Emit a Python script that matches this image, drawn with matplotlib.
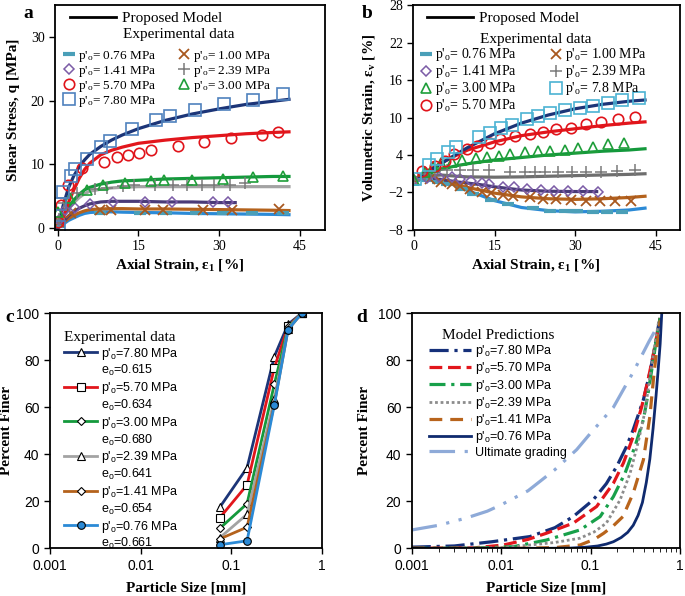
import matplotlib
matplotlib.use("Agg")
from matplotlib import pyplot as plt
from matplotlib.lines import Line2D
from matplotlib.ticker import NullFormatter

plt.rcParams["font.family"] = ["Liberation Serif", "DejaVu Serif"]
plt.rcParams["mathtext.default"] = "regular"

# ---------------- panel a: shear stress vs axial strain ----------------
a_model_x = [0, 1, 2, 3, 4, 5, 6, 8, 10, 12, 15, 20, 25, 30, 35, 40, 43]
a_model_780 = [0, 3.5, 6.3, 8.2, 9.6, 10.7, 11.6, 12.8, 13.8, 14.6, 15.6, 16.9, 17.9, 18.7, 19.4, 19.9, 20.2]
a_model_570 = [0, 1.5, 4.0, 6.0, 7.8, 9.2, 10.2, 11.5, 12.2, 12.7, 13.3, 13.8, 14.2, 14.5, 14.8, 15.0, 15.1]
a_model_300 = [0, 1.8, 3.3, 4.4, 5.3, 6.0, 6.4, 6.9, 7.2, 7.4, 7.5, 7.7, 7.8, 7.9, 8.0, 8.1, 8.1]
a_model_239 = [0, 1.6, 3.0, 4.0, 4.8, 5.4, 5.8, 6.1, 6.3, 6.4, 6.5, 6.5, 6.5, 6.5, 6.5, 6.5, 6.5]
a_model_100 = [0, 0.8, 1.5, 2.0, 2.4, 2.7, 2.9, 3.0, 3.05, 3.05, 3.0, 3.0, 2.95, 2.9, 2.85, 2.8, 2.75]
a_model_076 = [0, 0.6, 1.2, 1.6, 2.0, 2.3, 2.45, 2.55, 2.55, 2.5, 2.45, 2.4, 2.3, 2.25, 2.2, 2.15, 2.1]
a_model_141_x = [0, 1, 2, 3, 4, 5, 6, 8, 10, 12, 15, 20, 25, 30, 33]
a_model_141 = [0, 1.0, 1.9, 2.6, 3.1, 3.5, 3.8, 4.1, 4.2, 4.2, 4.2, 4.1, 4.1, 4.0, 4.0]

a_exp_076_x = [0.3, 7.9, 15.3, 20.2, 25.8, 30.8, 36.1, 41.9]
a_exp_076_y = [0.3, 2.4, 2.4, 2.4, 2.3, 2.4, 2.4, 2.3]
a_exp_100_x = [0.3, 2.5, 7.9, 10.0, 16.2, 19.5, 27.0, 32.4, 41.1]
a_exp_100_y = [1.0, 2.3, 2.8, 2.9, 2.9, 2.8, 2.9, 2.9, 3.0]
a_exp_141_x = [0.3, 1.4, 3.2, 6.0, 10.3, 16.3, 21.3, 28.8, 31.7]
a_exp_141_y = [1.3, 2.9, 3.1, 3.8, 4.1, 4.1, 4.1, 4.05, 4.05]
a_exp_239_x = [0.3, 1.2, 3.5, 6.9, 9.1, 12.2, 14.1, 18.0, 21.5, 24.0, 26.8, 29.1, 32.0, 34.8]
a_exp_239_y = [1.5, 4.0, 5.5, 6.2, 6.3, 6.6, 6.7, 6.7, 6.8, 6.8, 6.7, 6.7, 6.8, 7.0]
a_exp_570_x = [0.1, 0.7, 2.0, 4.6, 8.6, 11.0, 13.1, 15.2, 17.4, 22.4, 27.2, 32.2, 37.9, 41.0]
a_exp_570_y = [1.0, 3.6, 6.8, 9.4, 10.3, 11.1, 11.5, 11.8, 12.3, 12.9, 13.5, 14.1, 14.6, 15.0]
a_exp_300_x = [0.1, 2.3, 5.5, 8.4, 12.5, 17.4, 19.8, 24.9, 30.8, 36.3, 41.8]
a_exp_300_y = [2.6, 4.7, 6.0, 6.8, 7.1, 7.4, 7.5, 7.6, 7.7, 8.0, 8.2]
a_exp_780_x = [0.2, 0.5, 0.9, 2.4, 3.3, 5.4, 8.0, 9.7, 13.9, 18.2, 20.8, 25.5, 30.9, 36.3, 41.9]
a_exp_780_y = [0.2, 3.8, 5.6, 8.1, 9.2, 10.9, 12.8, 13.7, 15.5, 16.9, 17.6, 18.6, 19.4, 20.1, 21.0]

# ---------------- panel b: volumetric strain vs axial strain ----------------
b_model_x = [0, 2, 5, 8, 10, 15, 20, 25, 30, 35, 40, 43]
b_model_780 = [0, 1.0, 2.6, 4.2, 5.2, 7.4, 9.1, 10.4, 11.4, 12.1, 12.6, 12.8]
b_model_570 = [0, 1.2, 2.7, 4.0, 4.8, 6.1, 7.1, 7.7, 8.2, 8.7, 9.1, 9.3]
b_model_300 = [0, 0.8, 1.7, 2.3, 2.6, 3.2, 3.6, 4.0, 4.3, 4.6, 4.8, 5.0]
b_model_239 = [0, 0.6, 0.8, 0.6, 0.5, 0.45, 0.5, 0.6, 0.7, 0.8, 0.9, 1.0]
b_model_100 = [0, 0.2, -0.2, -0.8, -1.2, -2.1, -2.7, -3.0, -3.1, -3.0, -2.8, -2.6]
b_model_076 = [0, 0.2, -0.1, -0.9, -1.7, -3.3, -4.4, -4.9, -5.1, -5.0, -4.8, -4.5]
b_model_141_x = [0, 2, 5, 8, 10, 12, 15, 20, 25, 30, 34]
b_model_141 = [0, 0.3, 0.1, -0.3, -0.5, -0.7, -1.1, -1.6, -1.8, -1.85, -1.85]

b_exp_076_x = [0, 2.5, 4.5, 6.1, 9.0, 11.0, 14.4, 17.5, 22.2, 25.3, 28.1, 30.4, 33.3, 36.0, 38.8]
b_exp_076_y = [0, 0.0, -0.3, -0.6, -1.4, -2.2, -3.2, -3.8, -4.5, -4.9, -5.0, -5.0, -5.1, -5.2, -5.1]
b_exp_100_x = [0, 3.0, 5.1, 7.0, 8.6, 10.4, 12.6, 14.4, 16.5, 18.5, 21.5, 24.0, 26.5, 29.3, 32.0, 34.7, 37.5, 40.3]
b_exp_100_y = [0, 0.2, -0.3, -0.6, -1.0, -1.4, -1.9, -2.1, -2.4, -2.6, -2.8, -3.0, -3.1, -3.2, -3.3, -3.4, -3.4, -3.4]
b_exp_141_x = [0, 2.5, 4.7, 7.0, 8.5, 10.6, 12.7, 13.9, 16.6, 18.7, 21.0, 23.7, 26.0, 28.7, 31.4, 34.2]
b_exp_141_y = [0, 0.3, 0.4, 0.4, 0.2, -0.1, -0.5, -0.6, -1.1, -1.2, -1.5, -1.6, -1.7, -1.7, -1.8, -1.9]
b_exp_239_x = [0, 2.0, 4.0, 6.1, 8.6, 11.0, 13.9, 17.8, 20.6, 22.5, 24.3, 26.8, 29.4, 32.1, 34.9, 37.7, 41.1]
b_exp_239_y = [0, 1.0, 1.4, 1.6, 1.6, 1.6, 1.6, 1.2, 1.2, 1.2, 1.3, 1.3, 1.3, 1.3, 1.3, 1.4, 1.6]
b_exp_300_x = [0, 2.0, 3.5, 5.1, 7.1, 9.0, 11.5, 13.5, 15.8, 17.9, 20.6, 23.0, 25.3, 28.1, 30.6, 33.3, 36.1, 39.0]
b_exp_300_y = [0, 1.2, 2.0, 2.7, 2.9, 3.2, 3.5, 3.6, 3.8, 4.1, 4.4, 4.6, 4.6, 4.8, 5.1, 5.3, 5.8, 6.0]
b_exp_570_x = [1.5, 3.9, 5.8, 7.5, 9.9, 11.8, 14.1, 16.1, 18.8, 21.5, 24.0, 26.5, 29.3, 32.1, 34.9, 38.0, 41.2]
b_exp_570_y = [1.5, 2.3, 3.1, 4.1, 4.9, 5.4, 6.0, 6.5, 7.0, 7.4, 7.7, 8.1, 8.4, 8.9, 9.3, 9.7, 10.1]
b_exp_780_x = [0.2, 2.7, 4.2, 6.3, 7.9, 12.1, 14.2, 16.2, 18.2, 21.0, 23.0, 25.3, 28.1, 30.9, 33.4, 36.2, 38.8, 41.9]
b_exp_780_y = [0.2, 2.4, 3.3, 4.4, 5.3, 6.9, 7.6, 8.3, 8.8, 9.7, 10.2, 10.7, 11.2, 11.6, 11.9, 12.4, 12.8, 13.2]

# ---------------- panel c: measured gradings ----------------
sieve_mm = [0.075, 0.15, 0.3, 0.425, 0.6]
c_780 = [17.5, 34.3, 81.6, 95.3, 100]
c_570 = [13.0, 27.0, 76.8, 94.5, 100]
c_300 = [8.5, 19.0, 69.8, 94.0, 100]
c_239 = [4.5, 14.5, 63.5, 93.5, 100]
c_141 = [4.0, 9.0, 61.5, 93.0, 100]
c_076 = [1.5, 3.2, 61.0, 93.0, 100]
c_p0 = ["7.80", "5.70", "3.00", "2.39", "1.41", "0.76"]
c_e0 = ["0.615", "0.634", "0.680", "0.641", "0.654", "0.661"]

# ---------------- panel d: predicted gradings ----------------
d_780_x = [0.001, 0.003, 0.0079, 0.021, 0.04, 0.064, 0.107, 0.15, 0.196, 0.25, 0.30, 0.35, 0.39, 0.43, 0.46, 0.52, 0.57, 0.6]
d_780_y = [0.5, 1.0, 2.8, 5.0, 8.8, 13.5, 20.6, 27.5, 34.8, 43, 50.5, 58, 63.3, 70, 74.7, 85, 94, 98]
d_570_x = [0.001, 0.005, 0.0106, 0.02, 0.032, 0.064, 0.117, 0.18, 0.233, 0.30, 0.374, 0.44, 0.5, 0.56, 0.6]
d_570_y = [0, 0.2, 1.4, 3.8, 6.4, 10.7, 17.8, 27.7, 36.3, 47.6, 60.4, 71.8, 82, 92, 98]
d_300_x = [0.001, 0.005, 0.0137, 0.032, 0.076, 0.128, 0.18, 0.243, 0.314, 0.39, 0.44, 0.49, 0.55, 0.6]
d_300_y = [0, 0.1, 0.7, 3.5, 7.8, 13.5, 22, 32, 43.4, 54.8, 66, 77.5, 90, 98]
d_239_x = [0.001, 0.01, 0.021, 0.04, 0.076, 0.11, 0.15, 0.214, 0.277, 0.34, 0.41, 0.46, 0.52, 0.58]
d_239_y = [0, 0.2, 1.4, 2.5, 4.3, 7.0, 10.7, 20.6, 32, 45, 59, 73, 86, 97]
d_141_x = [0.001, 0.015, 0.04, 0.076, 0.11, 0.14, 0.18, 0.23, 0.30, 0.39, 0.46, 0.505, 0.55, 0.6]
d_141_y = [0, 0, 0.3, 1.4, 3.8, 6.4, 9.6, 13.5, 23.5, 37.7, 56, 72, 85, 97]
d_076_x = [0.001, 0.03, 0.06, 0.09, 0.12, 0.15, 0.18, 0.22, 0.26, 0.3, 0.34, 0.38, 0.42, 0.46, 0.5, 0.54, 0.57, 0.6, 0.625]
d_076_y = [0, 0, 0.1, 0.5, 1.0, 1.8, 2.8, 4.6, 6.8, 9.8, 14, 19.5, 28, 38, 51, 65, 76, 87, 100]
d_ult_x = [0.001, 0.002, 0.004, 0.007, 0.01, 0.02, 0.04, 0.07, 0.1, 0.18, 0.3, 0.45, 0.57]
d_ult_y = [7.8, 9.8, 12.8, 15.8, 18.5, 24.5, 33.5, 42, 49, 60, 75, 88, 95]

NAVY = "#1c3578"
RED = "#e2161c"
GREEN = "#14993c"
BROWN = "#b4621c"
BLUE = "#2b8ad6"

fig = plt.figure(figsize=(6.85, 5.96), dpi=100)
ax_a = fig.add_axes([0.0803, 0.6141, 0.3942, 0.3775])
ax_b = fig.add_axes([0.6036, 0.6141, 0.3890, 0.3775])
ax_c = fig.add_axes([0.0730, 0.0800, 0.3966, 0.3943])
ax_d = fig.add_axes([0.6010, 0.0800, 0.3917, 0.3943])


def style_axes(ax, sans=False):
    for s in ax.spines.values():
        s.set_linewidth(1.3)
    ax.tick_params(direction="out", length=4, width=1, labelsize=10)
    if sans:
        for lab in ax.get_xticklabels() + ax.get_yticklabels():
            lab.set_family("Liberation Sans")


def strain_legends(ax, entries, header_anchor, exp_y, ent_anchor, colsp, fsize):
    h = Line2D([], [], color="black", lw=2)
    leg1 = ax.legend([h], ["Proposed Model"], loc="upper left", bbox_to_anchor=header_anchor,
                     frameon=False, fontsize=11, handlelength=3.0, handletextpad=0.4,
                     borderpad=0, borderaxespad=0)
    ax.add_artist(leg1)
    ax.text(0.25, exp_y, "Experimental data", transform=ax.transAxes,
            fontsize=11, va="center", ha="left")
    handles = [e[0] for e in entries]
    labels = [e[1] for e in entries]
    ax.legend(handles, labels, loc="upper left", bbox_to_anchor=ent_anchor, ncol=2,
              frameon=False, fontsize=fsize, handlelength=0.9, handletextpad=0.2,
              columnspacing=colsp, labelspacing=0.0, borderpad=0, borderaxespad=0)


def mk(marker, color, ms, mew, fill="none"):
    return dict(marker=marker, ls="none", ms=ms, mew=mew, mec=color, mfc=fill)


# panel a
ax = ax_a
ax.plot(a_model_x, a_model_076, color=BLUE, lw=2.3)
ax.plot(a_model_x, a_model_100, color=BROWN, lw=2.3)
ax.plot(a_model_141_x, a_model_141, color="#4a3b78", lw=2.3)
ax.plot(a_model_x, a_model_239, color="#a3a3a3", lw=2.3)
ax.plot(a_model_x, a_model_300, color=GREEN, lw=2.3)
ax.plot(a_model_x, a_model_570, color=RED, lw=2.3)
ax.plot(a_model_x, a_model_780, color=NAVY, lw=2.3)
s076 = mk("_", "#4a9fb8", 8, 3)
s100 = mk("x", "#a8581f", 7, 1.3)
s141 = mk("D", "#7b5ca6", 5.5, 1.1)
s239 = mk("+", "#7a7a7a", 8, 1.1)
s570 = mk("o", "#e0141b", 7.5, 1.2)
s300 = mk("^", "#1f9e3a", 7, 1.2)
s780a = mk("s", "#4f81bd", 8, 1.2)
ax.plot(a_exp_076_x, a_exp_076_y, **s076)
ax.plot(a_exp_100_x, a_exp_100_y, **s100)
ax.plot(a_exp_141_x, a_exp_141_y, **s141)
ax.plot(a_exp_239_x, a_exp_239_y, **s239)
ax.plot(a_exp_570_x, a_exp_570_y, **s570)
ax.plot(a_exp_300_x, a_exp_300_y, **s300)
ax.plot(a_exp_780_x, a_exp_780_y, **s780a)
ax.set_xlim(-0.5, 49.7)
ax.set_ylim(-0.3, 35)
ax.set_xticks([0, 15, 30, 45])
ax.set_yticks([0, 10, 20, 30])
style_axes(ax)
ax.set_xlabel("Axial Strain, ε$_1$ [%]", fontsize=11, fontweight="bold")
ax.set_ylabel("Shear Stress, q [MPa]", fontsize=11, fontweight="bold")
ax.xaxis.set_label_coords(0.46, -0.12)
ax.yaxis.set_label_coords(-0.13, 0.535)
entries_a = [
    (Line2D([], [], **s076), "p'$_o$= 0.76 MPa"),
    (Line2D([], [], **s141), "p'$_o$= 1.41 MPa"),
    (Line2D([], [], **s570), "p'$_o$= 5.70 MPa"),
    (Line2D([], [], **s780a), "p'$_o$= 7.80 MPa"),
    (Line2D([], [], **s100), "p'$_o$= 1.00 MPa"),
    (Line2D([], [], **s239), "p'$_o$= 2.39 MPa"),
    (Line2D([], [], **s300), "p'$_o$= 3.00 MPa"),
]
strain_legends(ax, entries_a, (0.055, 0.972), 0.867, (0.03, 0.804), 1.7, 9.5)
fig.text(28 / 685, 1 - 13 / 596, "a", fontsize=14, fontweight="bold", ha="center", va="center")

# panel b
ax = ax_b
ax.plot(b_model_x, b_model_076, color=BLUE, lw=2.3)
ax.plot(b_model_x, b_model_100, color=BROWN, lw=2.3)
ax.plot(b_model_141_x, b_model_141, color="#4a3b78", lw=2.3)
ax.plot(b_model_x, b_model_239, color="#6e6e6e", lw=2.3)
ax.plot(b_model_x, b_model_300, color=GREEN, lw=2.3)
ax.plot(b_model_x, b_model_570, color=RED, lw=2.3)
ax.plot(b_model_x, b_model_780, color=NAVY, lw=2.3)
s780b = mk("s", "#4bb3d3", 8, 1.2)
ax.plot(b_exp_076_x, b_exp_076_y, **s076)
ax.plot(b_exp_100_x, b_exp_100_y, **s100)
ax.plot(b_exp_141_x, b_exp_141_y, **s141)
ax.plot(b_exp_239_x, b_exp_239_y, **s239)
ax.plot(b_exp_300_x, b_exp_300_y, **s300)
ax.plot(b_exp_570_x, b_exp_570_y, **s570)
ax.plot(b_exp_780_x, b_exp_780_y, **s780b)
ax.set_xlim(-0.1, 49.5)
ax.set_ylim(-8, 28)
ax.set_xticks([0, 15, 30, 45])
ax.set_yticks([-8, -2, 4, 10, 16, 22, 28])
style_axes(ax)
ax.set_xlabel("Axial Strain, ε$_1$ [%]", fontsize=11, fontweight="bold")
ax.set_ylabel("Volumetric Strain, ε$_v$ [%]", fontsize=11, fontweight="bold")
ax.xaxis.set_label_coords(0.46, -0.12)
ax.yaxis.set_label_coords(-0.135, 0.5)
entries_b = [
    (Line2D([], [], **s076), "p'$_o$= 0.76 MPa"),
    (Line2D([], [], **s141), "p'$_o$= 1.41 MPa"),
    (Line2D([], [], **s300), "p'$_o$= 3.00 MPa"),
    (Line2D([], [], **s570), "p'$_o$= 5.70 MPa"),
    (Line2D([], [], **s100), "p'$_o$= 1.00 MPa"),
    (Line2D([], [], **s239), "p'$_o$= 2.39 MPa"),
    (Line2D([], [], **s780b), "p'$_o$= 7.8 MPa"),
]
strain_legends(ax, entries_b, (0.05, 0.972), 0.845, (0.025, 0.816), 2.3, 10)
fig.text(367 / 685, 1 - 13 / 596, "b", fontsize=14, fontweight="bold", ha="center", va="center")

# panel c
ax = ax_c
c_series = [
    (c_780, NAVY, "^", "white"),
    (c_570, RED, "s", "white"),
    (c_300, GREEN, "D", "white"),
    (c_239, "#a3a3a3", "^", "white"),
    (c_141, BROWN, "D", "white"),
    (c_076, BLUE, "o", BLUE),
]
handles = []
labels = []
for (yv, col, m, fc), p0, e0 in zip(c_series, c_p0, c_e0):
    msz = 4.5 if m == "D" else 5.5
    ax.plot(sieve_mm, yv, color=col, lw=2, marker=m, ms=msz, mfc=fc, mec="black", mew=0.8)
    handles.append(Line2D([], [], color=col, lw=2, marker=m, ms=msz, mfc=fc, mec="black", mew=0.8))
    labels.append(f"p'$_o$={p0} MPa")
    handles.append(Line2D([], [], color="none"))
    labels.append(f"e$_o$={e0}")
ax.set_xscale("log")
ax.set_xlim(0.001, 1)
ax.set_ylim(0, 100)
ax.set_xticks([0.001, 0.01, 0.1, 1])
ax.set_xticklabels(["0.001", "0.01", "0.1", "1"])
ax.xaxis.set_minor_formatter(NullFormatter())
ax.tick_params(which="minor", length=0)
style_axes(ax, sans=True)
ax.set_xlabel("Particle Size [mm]", fontsize=11, fontweight="bold")
ax.set_ylabel("Percent Finer", fontsize=11, fontweight="bold")
ax.xaxis.set_label_coords(0.5, -0.14)
ax.yaxis.set_label_coords(-0.135, 0.5)
ax.legend(handles, labels, loc="upper left", bbox_to_anchor=(0.03, 0.952), frameon=False,
          prop={"family": "Liberation Sans", "size": 9}, handlelength=2.6, handletextpad=0.3,
          labelspacing=0.14, borderpad=0, title="Experimental data",
          title_fontproperties={"family": "Liberation Serif", "size": 11}, alignment="left")
fig.text(5 / 685, 1 - 318 / 596, "c", fontsize=14, fontweight="bold", ha="left", va="center")

# panel d
ax = ax_d
d_series = [
    (d_780_x, d_780_y, "#15307a", (0, (6, 1.8, 1, 1.8)), 2.3, "7.80"),
    (d_570_x, d_570_y, "#e2161c", (0, (4, 1.8)), 2.3, "5.70"),
    (d_300_x, d_300_y, "#18a04a", (0, (5, 1.8, 1, 1.8)), 2.3, "3.00"),
    (d_239_x, d_239_y, "#8c8c8c", (0, (1, 1)), 2.0, "2.39"),
    (d_141_x, d_141_y, "#b8641c", (0, (4, 2.5)), 2.3, "1.41"),
    (d_076_x, d_076_y, "#0f2a6e", "-", 2.0, "0.76"),
]
handles = []
labels = []
for xv, yv, col, ls, lw, p0 in d_series:
    ax.plot(xv, yv, color=col, ls=ls, lw=lw)
    handles.append(Line2D([], [], color=col, ls=ls, lw=lw))
    labels.append(f"p'$_o$={p0} MPa")
ax.plot(d_ult_x, d_ult_y, color="#8eaad8", ls=(0, (8, 3, 1, 3, 1, 3)), lw=2.3)
handles.append(Line2D([], [], color="#8eaad8", ls=(0, (8, 3, 1, 3, 1, 3)), lw=2.3))
labels.append("Ultimate grading")
ax.set_xscale("log")
ax.set_xlim(0.001, 1)
ax.set_ylim(0, 100)
ax.set_xticks([0.001, 0.01, 0.1, 1])
ax.set_xticklabels(["0.001", "0.01", "0.1", "1"])
ax.xaxis.set_minor_formatter(NullFormatter())
ax.tick_params(which="minor", direction="out", length=3)
style_axes(ax, sans=True)
ax.set_xlabel("Particle Size [mm]", fontsize=11, fontweight="bold")
ax.set_ylabel("Percent Finer", fontsize=11, fontweight="bold")
ax.xaxis.set_label_coords(0.5, -0.14)
ax.yaxis.set_label_coords(-0.15, 0.5)
ax.legend(handles, labels, loc="upper left", bbox_to_anchor=(0.04, 0.96), frameon=False,
          prop={"family": "Liberation Sans", "size": 9}, handlelength=3.4, handletextpad=0.3,
          labelspacing=0.1, borderpad=0, title="Model Predictions",
          title_fontproperties={"family": "Liberation Serif", "size": 11}, alignment="center")
fig.text(362 / 685, 1 - 318 / 596, "d", fontsize=14, fontweight="bold", ha="center", va="center")

fig.savefig("out.png", dpi=100)
